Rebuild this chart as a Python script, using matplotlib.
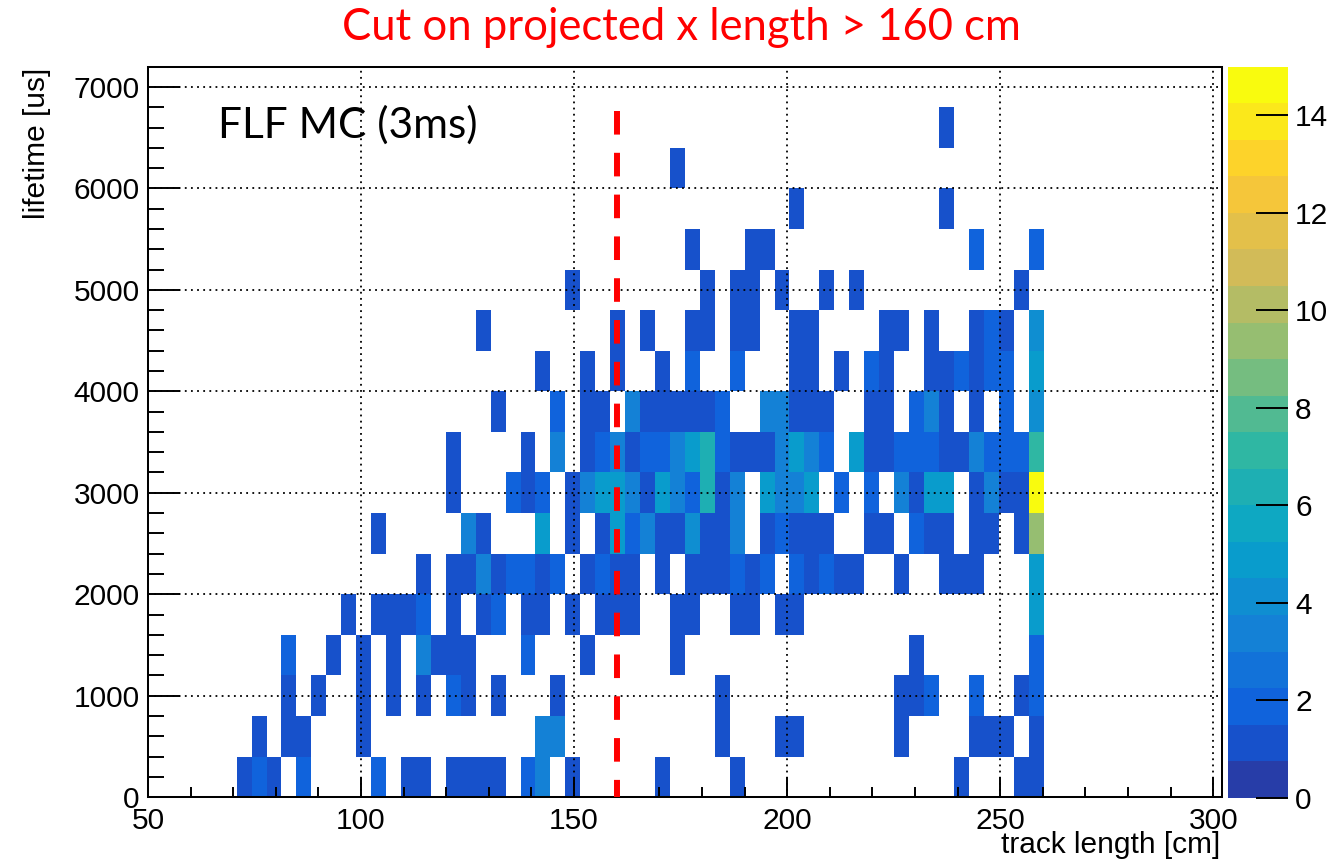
import numpy as np
import matplotlib
matplotlib.use("Agg")
import matplotlib.pyplot as plt
from matplotlib.colors import ListedColormap, BoundaryNorm, LinearSegmentedColormap
from matplotlib.ticker import MultipleLocator

# ---------------- data ----------------
# track-length binning (cm): bin index k covers x_first_edge + (k-first_bin)*x_bin_width ...
first_bin = 20
n_xbins = 54
x_first_edge = 70.8
x_bin_width = 3.507
# lifetime binning (us)
y_bin_width = 400
n_ybins = 18

# entries per lifetime row, keyed by track-length bin index
row_0000 = {20: 1, 21: 2, 22: 1, 24: 2, 29: 2, 31: 1, 32: 1, 34: 1, 35: 1, 36: 1, 37: 1,
            39: 2, 40: 3, 42: 1, 48: 1, 53: 1, 68: 1, 72: 1, 73: 1}
row_0400 = {21: 1, 23: 1, 24: 1, 28: 1, 40: 3, 41: 3, 52: 1, 56: 1, 57: 1, 64: 1, 69: 1,
            70: 1, 71: 1, 73: 1}
row_0800 = {23: 1, 25: 1, 28: 1, 30: 1, 32: 1, 34: 2, 35: 1, 37: 1, 41: 1, 52: 1, 64: 1,
            65: 1, 66: 2, 69: 2, 72: 1, 73: 2}
row_1200 = {23: 2, 26: 1, 28: 1, 30: 1, 32: 3, 33: 1, 34: 1, 35: 1, 39: 2, 43: 1, 49: 1,
            65: 1, 73: 2}
row_1600 = {27: 1, 29: 1, 30: 1, 31: 1, 32: 2, 34: 1, 36: 1, 37: 2, 39: 1, 40: 1, 42: 1,
            44: 1, 45: 1, 46: 1, 49: 1, 50: 1, 53: 1, 54: 1, 56: 1, 57: 1, 73: 5}
row_2000 = {32: 1, 34: 1, 35: 1, 36: 3, 37: 1, 38: 2, 39: 2, 40: 1, 41: 2, 43: 1, 44: 2,
            45: 1, 46: 1, 48: 1, 50: 1, 51: 1, 52: 1, 53: 2, 54: 1, 55: 2, 57: 2, 58: 1,
            59: 2, 60: 1, 61: 1, 64: 1, 67: 1, 68: 1, 69: 1, 73: 5}
row_2400 = {29: 1, 35: 3, 36: 1, 40: 5, 42: 1, 44: 1, 45: 5, 46: 2, 47: 3, 48: 1, 49: 1,
            50: 4, 51: 1, 52: 1, 53: 3, 55: 1, 56: 2, 57: 1, 58: 1, 59: 1, 62: 1, 63: 1,
            65: 2, 66: 1, 67: 1, 69: 1, 70: 1, 72: 1, 73: 9}
row_2800 = {34: 1, 38: 2, 39: 1, 40: 2, 42: 1, 43: 3, 44: 5, 45: 5, 46: 3, 47: 1, 48: 5,
            49: 3, 50: 2, 51: 6, 52: 1, 53: 3, 55: 5, 56: 3, 57: 3, 58: 5, 60: 2, 62: 2,
            64: 3, 65: 1, 66: 5, 67: 5, 69: 1, 70: 3, 71: 1, 72: 1, 73: 15}
row_3200 = {34: 1, 39: 1, 41: 3, 43: 1, 44: 2, 45: 3, 46: 1, 47: 2, 48: 2, 49: 3, 50: 5,
            51: 6, 52: 2, 53: 1, 54: 1, 55: 1, 56: 3, 57: 5, 58: 3, 59: 2, 61: 5, 62: 1,
            63: 1, 64: 2, 65: 2, 66: 2, 67: 1, 68: 1, 69: 3, 70: 2, 71: 2, 72: 2, 73: 7}
row_3600 = {37: 1, 41: 2, 43: 1, 44: 1, 46: 3, 47: 1, 48: 1, 49: 1, 50: 1, 51: 1, 52: 2,
            55: 3, 56: 3, 57: 1, 58: 1, 59: 1, 62: 1, 63: 1, 65: 2, 66: 3, 67: 1, 69: 1,
            71: 2, 73: 4}
row_4000 = {40: 1, 43: 1, 45: 1, 48: 1, 50: 2, 53: 2, 57: 1, 58: 1, 60: 1, 62: 2, 63: 1,
            66: 1, 67: 1, 68: 2, 69: 1, 70: 2, 71: 2, 73: 5}
row_4400 = {36: 1, 45: 1, 47: 1, 50: 1, 51: 1, 53: 1, 54: 1, 57: 1, 58: 1, 63: 1, 64: 1,
            66: 1, 69: 1, 70: 2, 71: 1, 73: 4}
row_4800 = {42: 1, 51: 1, 53: 1, 54: 1, 56: 1, 59: 1, 61: 1, 72: 1}
row_5200 = {50: 1, 54: 1, 55: 1, 69: 2, 73: 2}
row_5600 = {57: 1, 67: 1}
row_6000 = {49: 1}
row_6400 = {67: 1}
row_6800 = {}

rows = [row_0000, row_0400, row_0800, row_1200, row_1600, row_2000, row_2400, row_2800,
        row_3200, row_3600, row_4000, row_4400, row_4800, row_5200, row_5600, row_6000,
        row_6400, row_6800]

z_max = 15
cut_value = 160
cut_top = 6760

title_text = "Cut on projected x length > 160 cm"
label_text = "FLF MC (3ms)"

# ---------------- build histogram ----------------
counts = np.zeros((n_ybins, n_xbins))
for r, d in enumerate(rows):
    for k, v in d.items():
        counts[r, k - first_bin] = v
x_edges = x_first_edge + x_bin_width * np.arange(n_xbins + 1)
y_edges = y_bin_width * np.arange(n_ybins + 1)
masked = np.ma.masked_equal(counts, 0)

# ROOT kBird palette, 20 contour bands
stops = [0.0, 0.125, 0.25, 0.375, 0.5, 0.625, 0.75, 0.875, 1.0]
red = [0.2082, 0.0592, 0.0780, 0.0232, 0.1802, 0.5301, 0.8186, 0.9956, 0.9764]
green = [0.1664, 0.3599, 0.5041, 0.6419, 0.7178, 0.7492, 0.7328, 0.7862, 0.9832]
blue = [0.5293, 0.8684, 0.8385, 0.7914, 0.6425, 0.4662, 0.3499, 0.1968, 0.0539]
bird = LinearSegmentedColormap.from_list(
    "bird", list(zip(stops, zip(red, green, blue))))
n_bands = 20
band_cols = [bird((i + 1) / n_bands) for i in range(n_bands)]
cmap = ListedColormap(band_cols)
levels = np.linspace(0, z_max, n_bands + 1)
norm = BoundaryNorm(levels, n_bands)

# ---------------- figure ----------------
plt.rcParams["font.family"] = ["Liberation Sans", "DejaVu Sans"]
W, H = 1336, 868
fig = plt.figure(figsize=(W / 100, H / 100), dpi=100)

def fx(px):
    return px / W

def fy(py):
    return 1 - py / H

ax_l, ax_r, ax_t, ax_b = 148, 1221.7, 66.7, 797.1
ax = fig.add_axes([fx(ax_l), fy(ax_b), fx(ax_r - ax_l), (ax_b - ax_t) / H])

mesh = ax.pcolormesh(x_edges, y_edges, masked, cmap=cmap, norm=norm,
                     shading="flat", antialiased=False, zorder=1)

ax.set_xlim(50, 302)
ax.set_ylim(0, n_ybins * y_bin_width)
ax.xaxis.set_major_locator(MultipleLocator(50))
ax.xaxis.set_minor_locator(MultipleLocator(10))
ax.yaxis.set_major_locator(MultipleLocator(1000))
ax.yaxis.set_minor_locator(MultipleLocator(200))
ax.set_yticks(np.arange(0, 7001, 1000))

ax.set_axisbelow(False)
ax.grid(True, which="major", color="black", linestyle=(0, (1, 2.4)), linewidth=1.3)

for s in ax.spines.values():
    s.set_linewidth(1.45)
ax.tick_params(axis="x", which="major", direction="in", length=14.5, width=1.4,
               labelsize=21.5, pad=7)
ax.tick_params(axis="x", which="minor", direction="in", length=7.2, width=1.4)
ax.tick_params(axis="y", which="major", direction="in", length=23, width=1.4,
               labelsize=21.5, pad=6)
ax.tick_params(axis="y", which="minor", direction="in", length=11.5, width=1.4)

# cut line
ax.plot([cut_value, cut_value], [cut_top, 0], color="#ff0000", lw=4.3,
        linestyle=(0, (3.95, 3.05)), zorder=3, solid_capstyle="butt",
        dash_capstyle="butt")

# colorbar
cax = fig.add_axes([fx(1228.3), fy(797.7), fx(1288.3 - 1228.3), (797.7 - 66.7) / H])
cb = fig.colorbar(mesh, cax=cax, ticks=np.arange(0, 15, 2))
cb.outline.set_visible(False)
cax.yaxis.set_ticks_position("right")
cax.tick_params(axis="y", which="major", direction="in", length=23, width=1.4,
                labelsize=21.5, pad=5)
cax.minorticks_off()

# axis titles (ROOT style: at the axis ends)
fig.text(fx(1220), fy(853), "track length [cm]", ha="right", va="baseline",
         fontsize=21.5)
fig.text(fx(37), fy(68), "lifetime [us]", ha="center", va="top",
         rotation=90, fontsize=21.5)

# overlay texts
t_title = fig.text(fx(681), fy(40), title_text, ha="center", va="baseline",
                   color="#ff0000", fontsize=26, family=["Lato", "DejaVu Sans"])
t_lab = fig.text(fx(218), fy(138), label_text, ha="left", va="baseline",
                 color="black", fontsize=30, family=["Lato", "DejaVu Sans"])

fig.canvas.draw()
rend = fig.canvas.get_renderer()
for t, target in ((t_title, 678), (t_lab, 259)):
    w = t.get_window_extent(rend).width
    t.set_fontsize(t.get_fontsize() * target / w)

fig.savefig("out.png", dpi=100)
